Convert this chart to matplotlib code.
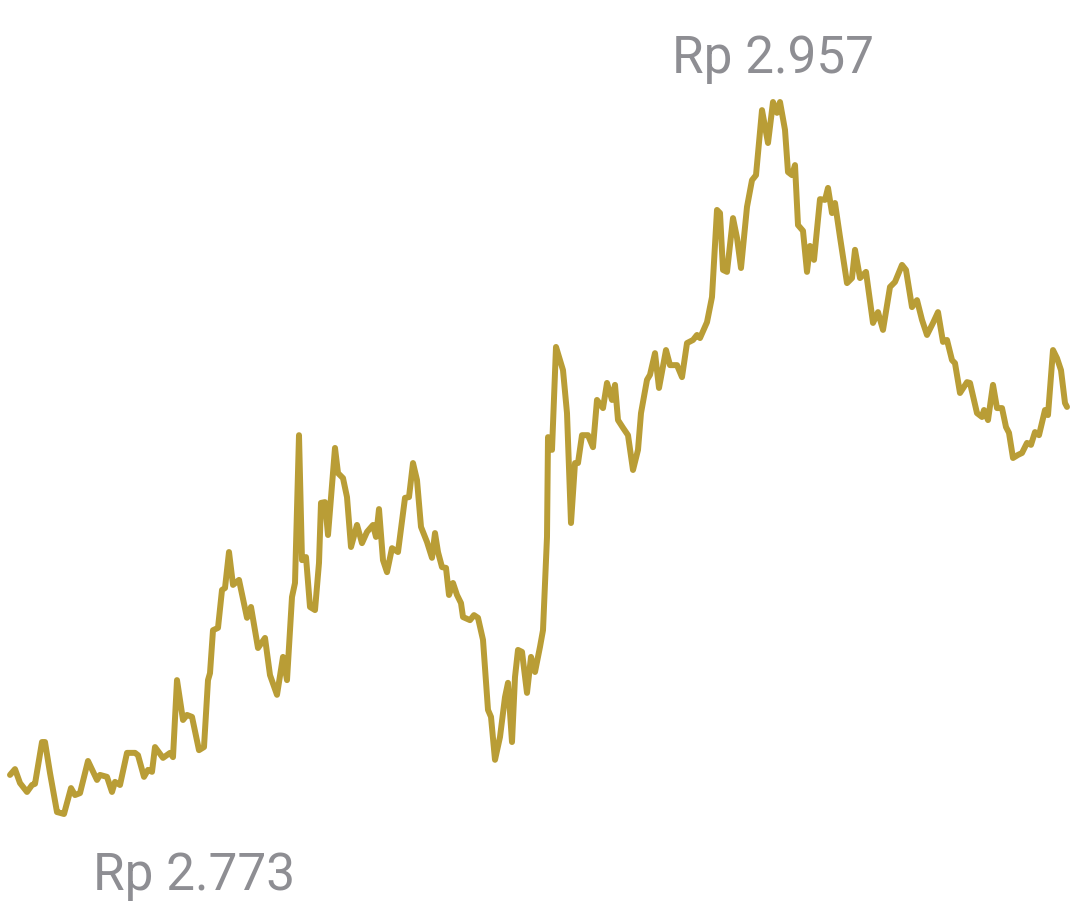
import matplotlib
matplotlib.use("Agg")
import matplotlib.pyplot as plt

# waktu (indeks) dan harga
t = [0, 5, 10, 17, 22, 25, 32, 35, 40, 47, 50, 54, 61, 65, 70, 78, 87, 90, 97, 102,
     105, 110, 117, 125, 128, 134, 138, 142, 145, 153, 160, 163, 167, 173, 177, 182, 189, 194, 198, 200,
     203, 208, 212, 215, 219, 223, 229, 237, 241, 248, 255, 260, 267, 273, 277, 282, 285, 289, 292, 296,
     300, 305, 309, 311, 315, 318, 325, 328, 333, 337, 341, 347, 352, 357, 363, 366, 369, 373, 377, 382,
     388, 395, 399, 403, 407, 411, 417, 422, 425, 428, 432, 436, 439, 443, 447, 451, 453, 460, 464, 468,
     473, 478, 481, 485, 490, 495, 498, 502, 505, 508, 512, 517, 521, 525, 530, 533, 537, 538, 542, 546,
     550, 553, 557, 561, 565, 568, 572, 578, 583, 587, 593, 597, 602, 605, 608, 613, 618, 623, 628, 631,
     637, 640, 645, 649, 656, 660, 667, 672, 677, 683, 687, 690, 697, 702, 707, 710, 713, 717, 723, 727,
     731, 737, 742, 746, 752, 758, 763, 767, 770, 775, 778, 782, 785, 788, 793, 797, 800, 804, 810, 815,
     818, 822, 825, 830, 837, 842, 845, 850, 856, 863, 868, 873, 880, 885, 892, 896, 902, 907, 912, 917,
     923, 928, 933, 937, 942, 945, 950, 957, 960, 967, 972, 974, 978, 983, 987, 992, 996, 999, 1003, 1008,
     1012, 1017, 1021, 1025, 1029, 1035, 1038, 1043, 1047, 1051, 1055, 1057]
harga = [2783.1, 2784.6, 2781.0, 2778.7, 2780.5, 2780.8, 2791.6, 2791.6, 2783.6, 2773.5,
         2773.3, 2773.0, 2779.7, 2777.9, 2778.4, 2786.7, 2781.8, 2783.1, 2782.6, 2778.7,
         2781.3, 2780.5, 2788.8, 2788.8, 2788.2, 2782.6, 2784.4, 2783.9, 2790.3, 2787.5,
         2788.8, 2787.7, 2807.6, 2797.3, 2798.6, 2798.1, 2789.5, 2790.3, 2807.6, 2809.4,
         2820.5, 2821.1, 2830.9, 2831.4, 2840.7, 2832.2, 2833.5, 2823.7, 2826.5, 2815.9,
         2818.5, 2808.9, 2803.8, 2813.6, 2807.6, 2829.1, 2832.7, 2870.9, 2838.6, 2839.4,
         2826.5, 2825.7, 2837.9, 2853.4, 2853.6, 2845.1, 2867.6, 2861.1, 2859.8, 2854.9,
         2842.0, 2847.7, 2843.0, 2845.9, 2847.7, 2844.6, 2851.8, 2838.6, 2835.5, 2841.7,
         2840.7, 2854.7, 2854.9, 2863.7, 2859.3, 2847.2, 2843.3, 2839.2, 2845.6, 2840.7,
         2836.8, 2836.6, 2829.6, 2832.7, 2829.6, 2827.5, 2823.9, 2823.1, 2824.4, 2823.7,
         2818.0, 2799.9, 2798.1, 2787.0, 2792.9, 2803.2, 2806.9, 2791.6, 2808.4, 2815.4,
         2814.9, 2804.3, 2813.6, 2809.7, 2816.2, 2820.5, 2844.6, 2870.4, 2867.1, 2893.7,
         2890.3, 2887.7, 2876.6, 2848.2, 2863.7, 2863.7, 2870.9, 2870.9, 2867.8, 2880.0,
         2877.9, 2884.4, 2880.0, 2883.9, 2874.8, 2872.8, 2870.9, 2861.9, 2867.1, 2876.6,
         2885.2, 2886.5, 2892.1, 2883.1, 2892.9, 2889.0, 2889.0, 2885.9, 2894.7, 2895.5,
         2896.8, 2896.0, 2900.1, 2906.6, 2929.1, 2928.3, 2913.6, 2913.1, 2927.0, 2921.9,
         2914.1, 2929.9, 2936.8, 2938.1, 2954.9, 2946.4, 2957.0, 2954.2, 2957.0, 2949.8,
         2938.9, 2938.1, 2940.7, 2925.2, 2923.7, 2913.1, 2919.8, 2916.2, 2931.9, 2931.7,
         2934.8, 2928.3, 2930.9, 2922.1, 2910.2, 2911.5, 2918.8, 2911.5, 2913.1, 2899.9,
         2902.7, 2898.1, 2909.2, 2910.5, 2914.9, 2913.6, 2904.0, 2905.8, 2900.7, 2896.8,
         2899.9, 2902.7, 2895.0, 2895.5, 2890.3, 2889.5, 2881.8, 2884.6, 2884.4, 2876.6,
         2875.6, 2877.4, 2874.8, 2883.9, 2877.9, 2877.9, 2873.0, 2871.5, 2865.0, 2865.8,
         2866.3, 2868.9, 2868.4, 2871.7, 2870.9, 2877.4, 2876.1, 2892.9, 2890.8, 2887.7,
         2879.2, 2878.2]

label_max = "Rp 2.957"
label_min = "Rp 2.773"

warna_garis = "#B99D36"
warna_teks = "#8E8E93"

plt.rcParams['font.family'] = ['Roboto', 'DejaVu Sans']

fig = plt.figure(figsize=(10.8, 9.21), dpi=100)
ax = fig.add_axes([0, 0, 1, 1])
ax.plot(t, harga, color=warna_garis, linewidth=4.3,
        solid_joinstyle='round', solid_capstyle='round')

ax.set_xlim(-10, 1070)
ax.set_ylim(2745.35, 2983.36)
ax.axis('off')

# label harga tertinggi dan terendah
i_max = harga.index(max(harga))
i_min = harga.index(min(harga))
ax.annotate(label_max, (t[i_max], harga[i_max]), xytext=(0, 21),
            textcoords='offset points', ha='center', va='baseline',
            fontsize=37, color=warna_teks)
ax.annotate(label_min, (t[i_min], harga[i_min]), xytext=(21, -55),
            textcoords='offset points', ha='left', va='baseline',
            fontsize=37, color=warna_teks)

fig.savefig('out.png', dpi=100)
plt.close(fig)
